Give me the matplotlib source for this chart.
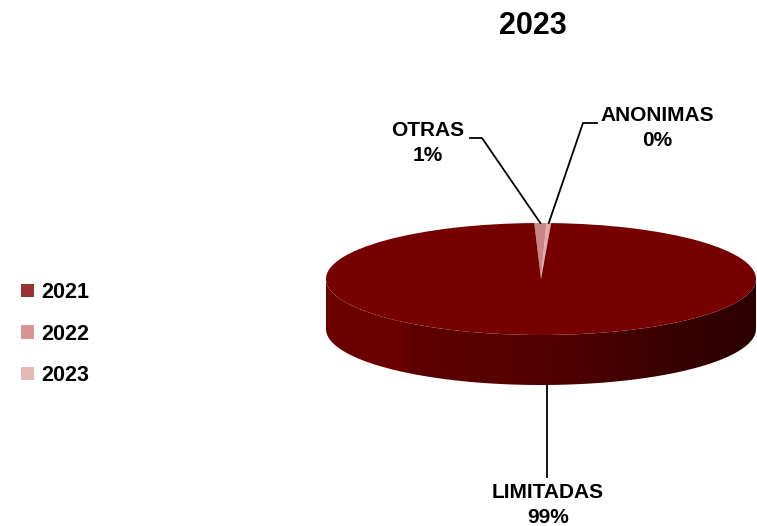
import numpy as np
import matplotlib
matplotlib.use("Agg")
import matplotlib.pyplot as plt
from matplotlib.patches import Patch, Polygon
from matplotlib.colors import LinearSegmentedColormap

plt.rcParams["font.family"] = ["Liberation Sans", "DejaVu Sans"]
plt.rcParams["font.weight"] = "bold"

# ── data ───────────────────────────────────────────────────────────────────────
TITLE = "2023"
categories = ["OTRAS", "ANONIMAS", "LIMITADAS"]
shares = [0.9, 0.35, 98.75]
pct_labels = ["1%", "0%", "99%"]
slice_colors = ["#C98686", "#E3AAAA", "#770000"]
legend_years = ["2021", "2022", "2023"]
legend_colors = ["#993333", "#D99594", "#E6B9B8"]

# ── layout (pixels) ────────────────────────────────────────────────────────────
W, H = 757, 526
CX, CY = 541, 279          # pie centre
RX, RY = 215, 56           # ellipse semi axes
DEPTH = 50 / RY            # extrusion in data units

def px(x, y):
    return (x - CX) / RX, (CY - y) / RY

fig = plt.figure(figsize=(W / 100, H / 100), dpi=100)
ax = fig.add_axes([0, 0, 1, 1])

wedges, _ = ax.pie(shares, colors=slice_colors, startangle=91.8, counterclock=False,
                   radius=1, wedgeprops=dict(linewidth=0))

# side band of the 3-D disc
th = np.linspace(np.pi, 2 * np.pi, 300)
top = np.column_stack([np.cos(th), np.sin(th)])
bot = top[::-1] - [0, DEPTH]
side = Polygon(np.vstack([top, bot]), closed=True, facecolor="none", edgecolor="none")
ax.add_patch(side)
cmap = LinearSegmentedColormap.from_list(
    "side", [(0, "#6A0000"), (0.18, "#6A0000"), (0.2, "#5E0000"),
             (0.5, "#540000"), (0.8, "#3A0000"), (1, "#2C0000")])
grad = np.linspace(0, 1, 256).reshape(1, -1)
im = ax.imshow(grad, extent=(-1, 1, -1 - DEPTH, 0.05), cmap=cmap, aspect="auto", zorder=0)
im.set_clip_path(side)

ax.set_aspect("auto")
ax.set_xlim(px(0, 0)[0], px(W, 0)[0])
ax.set_ylim(px(0, H)[1], px(0, 0)[1])
ax.axis("off")

# labels with leader lines
mid = [np.deg2rad((w.theta1 + w.theta2) / 2) for w in wedges]
lab_pos = [(428, 143), (657, 128), (548, 505)]
elbows = [[(470, 138), (482, 138)], [(597, 123), (583, 123)], [(547, 477)]]
for i, name in enumerate(categories):
    ax_, ay_ = np.cos(mid[i]), np.sin(mid[i])
    if ay_ < 0:
        ay_ -= DEPTH
        ax_ = px(*elbows[i][0])[0]   # straight drop below the disc
    ax.text(*px(*lab_pos[i]), f"{name}\n{pct_labels[i]}", ha="center", va="center",
            fontsize=15, fontweight="bold", linespacing=1.4)
    pts = [px(*p) for p in elbows[i]] + [(ax_, ay_)]
    ax.plot([p[0] for p in pts], [p[1] for p in pts], color="black", lw=1.3, zorder=5)

fig.text(533 / W, 1 - 26 / H, TITLE, ha="center", va="center", fontsize=22, fontweight="bold")

handles = [Patch(facecolor=c, edgecolor="none") for c in legend_colors]
fig.legend(handles, legend_years, loc="center left", bbox_to_anchor=(2 / W, 1 - 334 / H),
           frameon=False, fontsize=15.5, handlelength=0.6, handleheight=0.6,
           handletextpad=0.3, labelspacing=0.95)

fig.savefig("out.png", dpi=100)
